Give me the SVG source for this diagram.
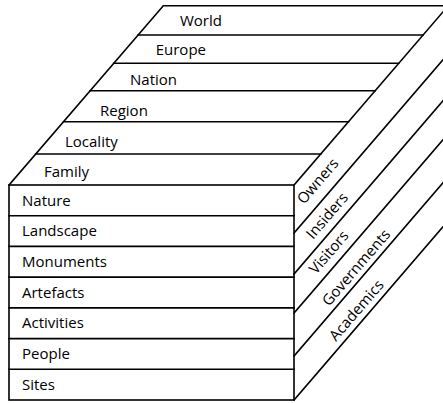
<svg xmlns="http://www.w3.org/2000/svg" width="443" height="403" viewBox="0 0 443 403">
<style>
.ln{stroke:#000;stroke-width:1.6;fill:none;stroke-linecap:square}
.t{font-family:"Open Sans","Liberation Sans",sans-serif;font-size:15px;fill:#000}
</style>
<rect width="443" height="403" fill="#fff"/>
<g id="connectors">
<!-- top face -->
<path class="ln" d="M9,185 L163.3,5.7 L450,5.7"/>
<path class="ln" d="M294,185 L448.3,5.7"/>
<path class="ln" d="M138,35 H423 M113.7,63.3 H398.7 M90.1,90.7 H375.1 M63.5,121.7 H348.5 M35.7,154 H320.7"/>
<!-- right face -->
<path class="ln" d="M294,233 L466,33 M294,274 L466,74 M294,313 L466,113 M294,356 L466,156 M294,400 L466,200"/>
</g>
<g id="front-face">
<rect class="ln" x="9" y="185" width="285" height="215"/>
<path class="ln" d="M9,215.7 H294 M9,246.4 H294 M9,277.1 H294 M9,307.9 H294 M9,338.6 H294 M9,369.3 H294"/>
</g>
<g id="scale-top">
<g id="world"><text class="t" x="180" y="26">World</text></g>
<g id="europe"><text class="t" x="155.7" y="55">Europe</text></g>
<g id="nation"><text class="t" x="130" y="85">Nation</text></g>
<g id="region"><text class="t" x="100" y="115.5">Region</text></g>
<g id="locality"><text class="t" x="65" y="146.7">Locality</text></g>
<g id="family"><text class="t" x="44" y="176.7">Family</text></g>
</g>
<g id="front-labels">
<g id="nature"><text class="t" x="22" y="205.5">Nature</text></g>
<g id="landscape"><text class="t" x="22" y="236.2">Landscape</text></g>
<g id="monuments"><text class="t" x="22" y="266.9">Monuments</text></g>
<g id="artefacts"><text class="t" x="22" y="297.6">Artefacts</text></g>
<g id="activities"><text class="t" x="22" y="328.3">Activities</text></g>
<g id="people"><text class="t" x="22" y="359.1">People</text></g>
<g id="sites"><text class="t" x="22" y="389.8">Sites</text></g>
</g>
<g id="side-labels">
<g id="owners"><text class="t" transform="translate(304,205) rotate(-49.3)">Owners</text></g>
<g id="insiders"><text class="t" transform="translate(313,240) rotate(-49.3)">Insiders</text></g>
<g id="visitors"><text class="t" transform="translate(316,275) rotate(-49.3)">Visitors</text></g>
<g id="governments"><text class="t" transform="translate(329,307) rotate(-49.3)">Governments</text></g>
<g id="academics"><text class="t" transform="translate(336,342) rotate(-49.3)">Academics</text></g>
</g>
</svg>
